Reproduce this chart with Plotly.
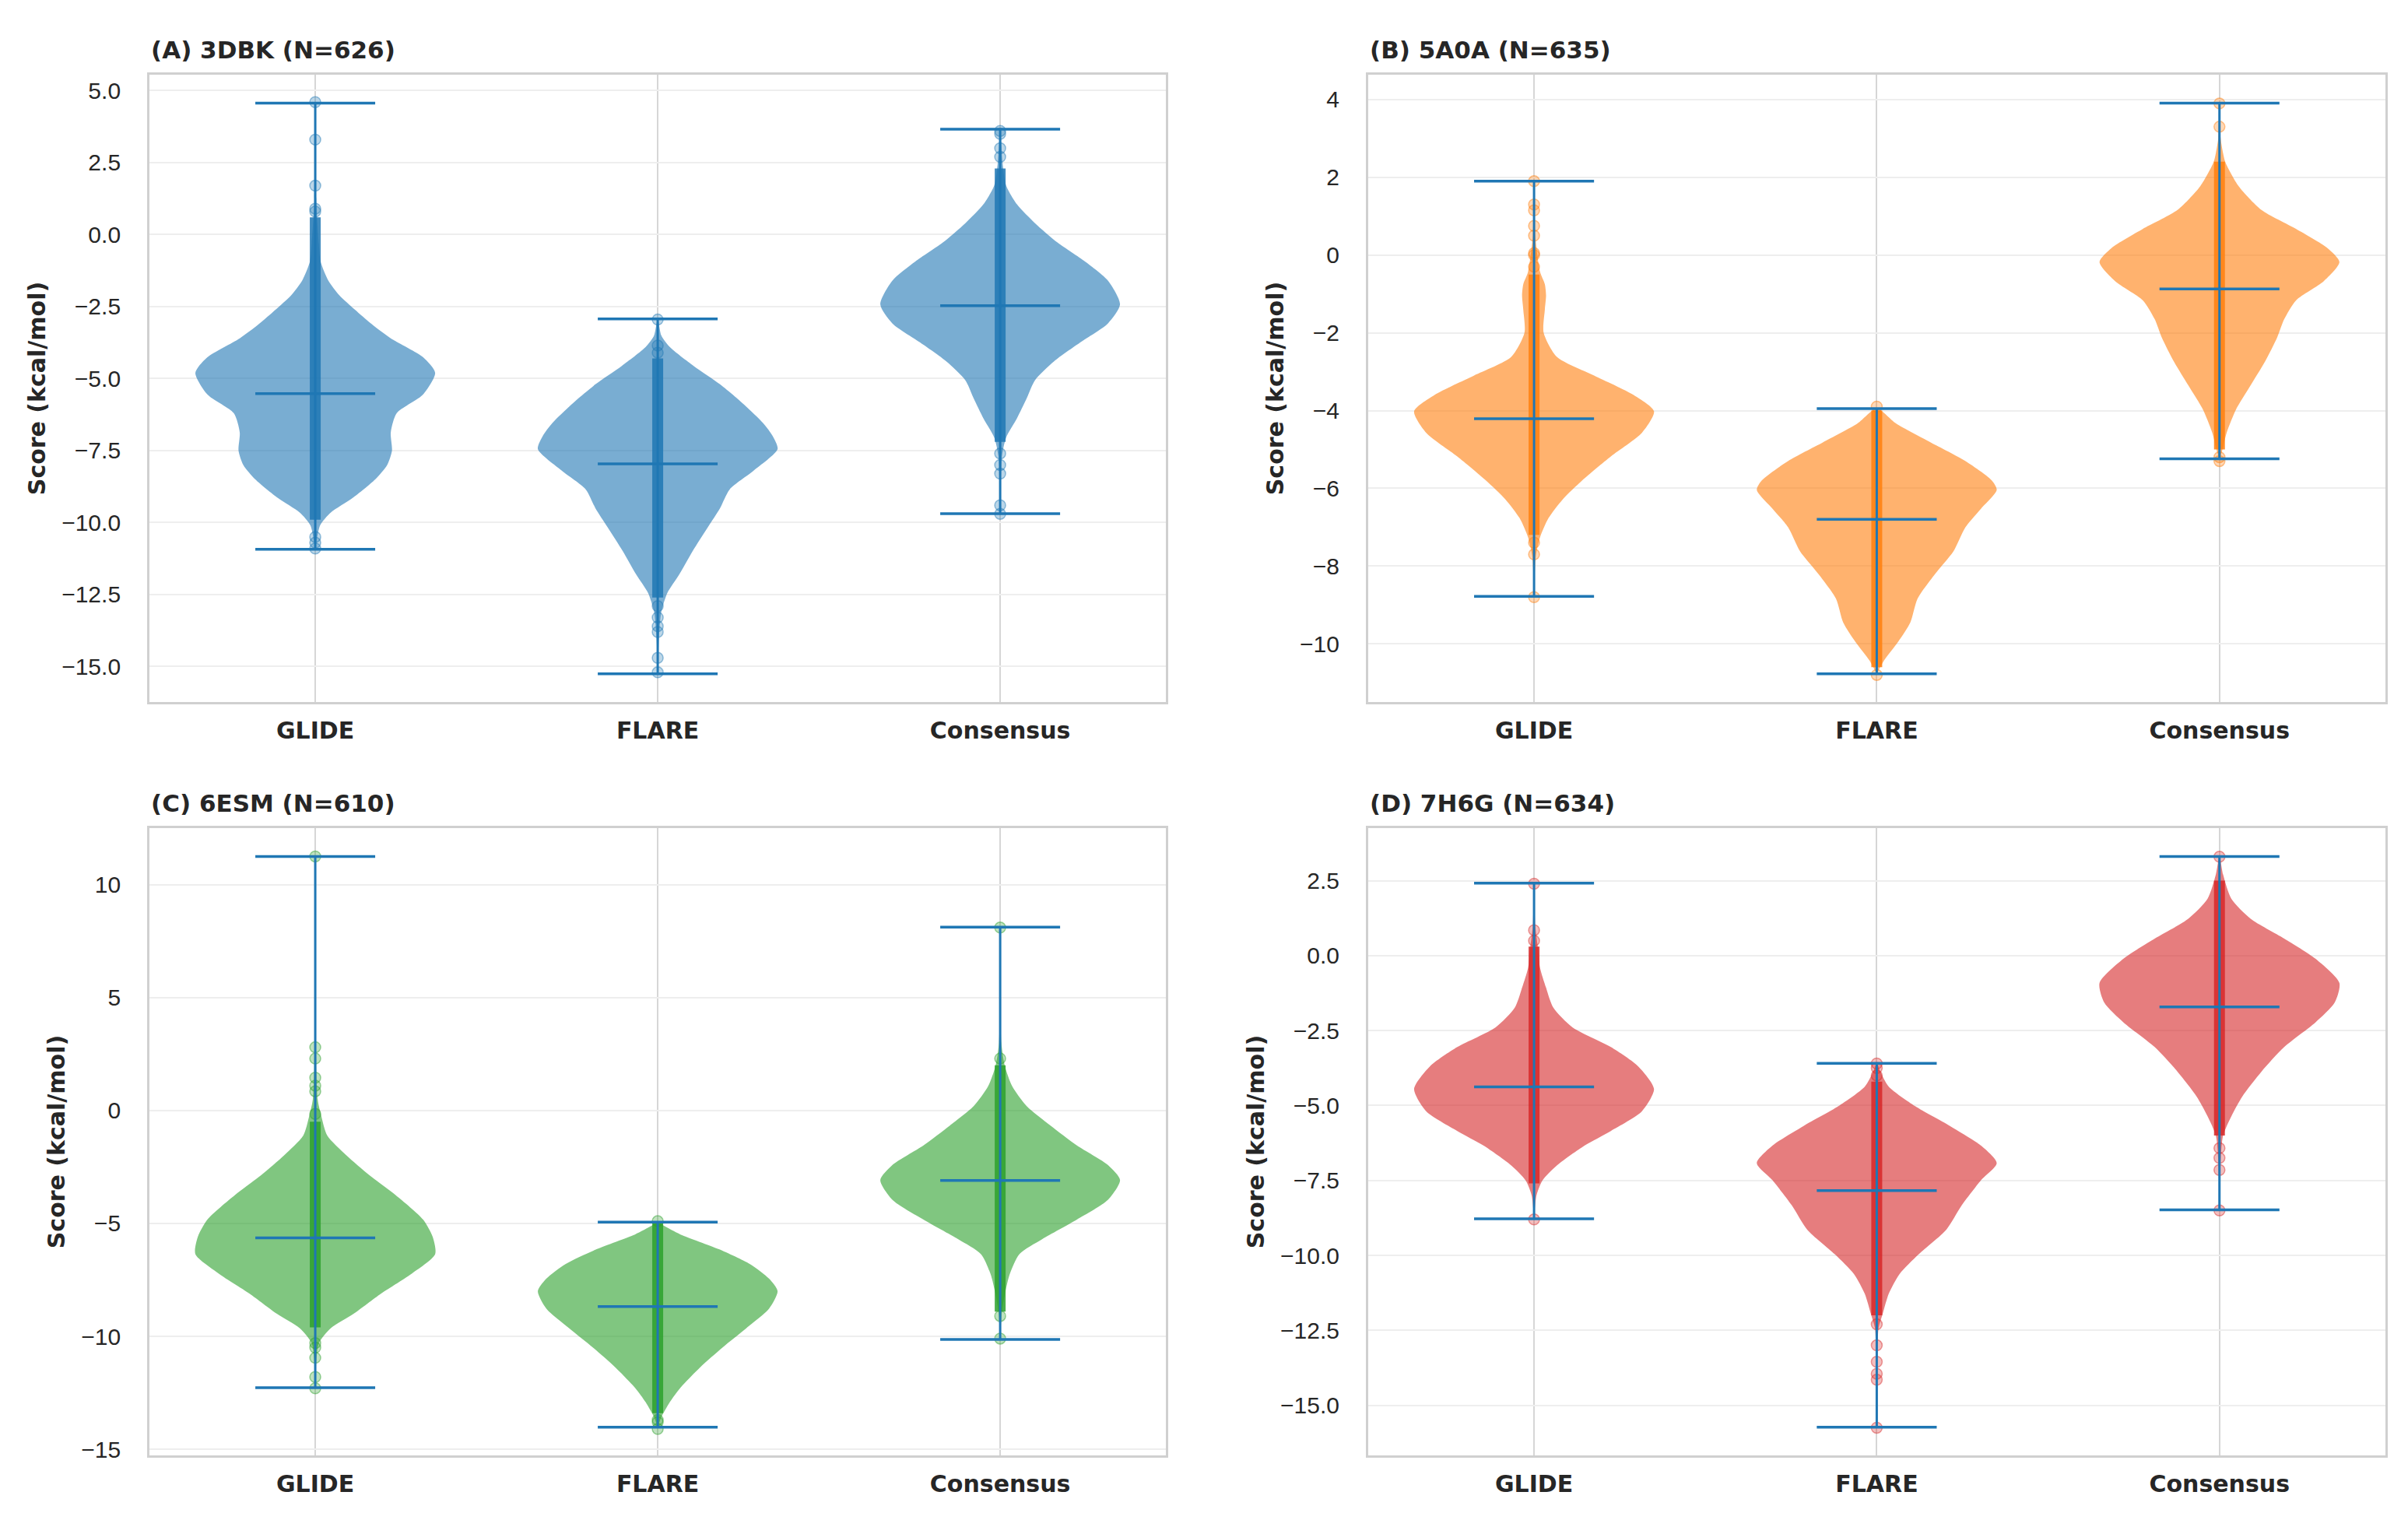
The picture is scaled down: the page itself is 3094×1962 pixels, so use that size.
import plotly.graph_objects as go
from plotly.subplots import make_subplots

# categorias e cores
methods = ['GLIDE', 'FLARE', 'Consensus']
panel_titles = ['(A) 3DBK (N=626)', '(B) 5A0A (N=635)', '(C) 6ESM (N=610)', '(D) 7H6G (N=634)']
panel_colors = [(31, 119, 180), (255, 127, 14), (44, 160, 44), (214, 39, 40)]

# min / max / mediana por painel (GLIDE, FLARE, Consensus)
a_min = [-10.93, -15.25, -9.69]
a_max = [4.57, -2.93, 3.66]
a_med = [-5.52, -7.96, -2.47]
b_min = [-8.78, -10.77, -5.24]
b_max = [1.90, -3.95, 3.91]
b_med = [-4.21, -6.80, -0.87]
c_min = [-12.27, -14.02, -10.14]
c_max = [11.25, -4.94, 8.12]
c_med = [-5.64, -8.68, -3.10]
d_min = [-8.78, -15.73, -8.48]
d_max = [2.42, -3.59, 3.31]
d_med = [-4.38, -7.84, -1.71]

# perfil de densidade: (score, meia-largura relativa)
a_glide_shape = [(4.57, 0), (1.0, 0.01), (-0.3, 0.03), (-0.94, 0.045), (-1.6, 0.11), (-2.1, 0.2),
                 (-2.6, 0.33), (-3.1, 0.47), (-3.6, 0.63), (-4.26, 0.9), (-4.8, 1.0), (-5.55, 0.9),
                 (-6.2, 0.68), (-6.87, 0.63), (-7.5, 0.64), (-8.0, 0.6), (-8.5, 0.5), (-9.15, 0.31),
                 (-9.65, 0.13), (-10.1, 0.04), (-10.93, 0)]
a_flare_shape = [(-2.93, 0), (-3.5, 0.03), (-3.9, 0.1), (-4.56, 0.3), (-5.2, 0.52), (-5.9, 0.72),
                 (-6.55, 0.88), (-7.0, 0.96), (-7.45, 1.0), (-8.2, 0.8), (-8.85, 0.6), (-9.5, 0.52),
                 (-10.15, 0.42), (-11.0, 0.29), (-11.8, 0.18), (-12.45, 0.08), (-13.1, 0.03),
                 (-14.0, 0.01), (-15.25, 0)]
a_cons_shape = [(3.66, 0), (2.5, 0.02), (1.7, 0.05), (1.05, 0.14), (0.4, 0.29), (-0.28, 0.48),
                (-0.94, 0.71), (-1.6, 0.9), (-2.42, 1.0), (-3.08, 0.9), (-3.74, 0.67), (-4.4, 0.45),
                (-5.06, 0.29), (-5.7, 0.22), (-6.38, 0.14), (-7.04, 0.05), (-7.7, 0.015), (-9.69, 0)]
b_glide_shape = [(1.9, 0), (0.5, 0.01), (-0.43, 0.05), (-0.75, 0.09), (-1.04, 0.1), (-1.4, 0.09),
                 (-2.0, 0.08), (-2.62, 0.19), (-3.1, 0.5), (-3.6, 0.83), (-4.02, 1.0), (-4.57, 0.9),
                 (-5.18, 0.64), (-5.8, 0.4), (-6.28, 0.24), (-6.77, 0.12), (-7.26, 0.05),
                 (-7.74, 0.015), (-8.78, 0)]
b_flare_shape = [(-3.95, 0), (-4.33, 0.16), (-4.82, 0.45), (-5.3, 0.74), (-5.8, 0.96), (-6.04, 1.0),
                 (-6.52, 0.87), (-7.0, 0.74), (-7.62, 0.64), (-8.23, 0.48), (-8.84, 0.34),
                 (-9.45, 0.28), (-9.94, 0.18), (-10.43, 0.06), (-10.77, 0)]
b_cons_shape = [(3.91, 0), (3.0, 0.01), (2.62, 0.03), (2.38, 0.05), (1.77, 0.16), (1.16, 0.35),
                (0.67, 0.64), (0.18, 0.9), (-0.18, 1.0), (-0.67, 0.87), (-1.16, 0.64), (-1.65, 0.54),
                (-2.13, 0.48), (-2.74, 0.38), (-3.35, 0.26), (-3.96, 0.14), (-4.57, 0.06),
                (-5.06, 0.02), (-5.24, 0)]
c_glide_shape = [(11.25, 0), (3.0, 0.005), (0.5, 0.02), (-0.24, 0.05), (-1.11, 0.1), (-1.99, 0.26),
                 (-2.86, 0.45), (-3.74, 0.67), (-4.83, 0.9), (-5.6, 0.98), (-6.36, 1.0), (-7.24, 0.8),
                 (-8.1, 0.55), (-9.0, 0.32), (-9.64, 0.13), (-10.3, 0.03), (-11.0, 0.01), (-12.27, 0)]
c_flare_shape = [(-4.94, 0), (-5.1, 0.05), (-5.49, 0.19), (-6.14, 0.51), (-6.8, 0.77), (-7.45, 0.93),
                 (-8.0, 1.0), (-8.77, 0.93), (-9.64, 0.74), (-10.5, 0.54), (-11.39, 0.35),
                 (-12.27, 0.19), (-12.92, 0.1), (-13.58, 0.03), (-14.02, 0)]
c_cons_shape = [(8.12, 0), (3.0, 0.01), (1.95, 0.04), (1.08, 0.1), (0.2, 0.22), (-0.67, 0.42),
                (-1.55, 0.64), (-2.42, 0.9), (-3.08, 1.0), (-3.95, 0.9), (-4.83, 0.64), (-5.7, 0.35),
                (-6.36, 0.16), (-7.24, 0.08), (-8.1, 0.04), (-8.98, 0.013), (-10.14, 0)]
d_glide_shape = [(2.42, 0), (1.0, 0.01), (0.33, 0.03), (-0.41, 0.05), (-1.07, 0.1), (-1.73, 0.16),
                 (-2.39, 0.32), (-3.05, 0.64), (-3.7, 0.87), (-4.45, 1.0), (-5.19, 0.9), (-5.85, 0.64),
                 (-6.34, 0.42), (-7.0, 0.19), (-7.5, 0.07), (-8.0, 0.02), (-8.78, 0)]
d_flare_shape = [(-3.59, 0), (-3.87, 0.03), (-4.37, 0.1), (-5.02, 0.32), (-5.68, 0.61), (-6.34, 0.87),
                 (-6.92, 1.0), (-7.49, 0.87), (-8.32, 0.71), (-9.14, 0.58), (-9.96, 0.35),
                 (-10.62, 0.19), (-11.28, 0.1), (-11.94, 0.05), (-12.43, 0.015), (-13.5, 0.005),
                 (-15.73, 0)]
d_cons_shape = [(3.31, 0), (2.71, 0.03), (1.89, 0.1), (1.23, 0.26), (0.57, 0.54), (-0.1, 0.8),
                (-0.91, 1.0), (-1.57, 0.96), (-2.23, 0.8), (-3.05, 0.54), (-3.87, 0.35), (-4.7, 0.19),
                (-5.35, 0.1), (-6.0, 0.03), (-6.8, 0.01), (-8.48, 0)]

# pontos isolados visíveis e faixa densa de pontos sobrepostos
a_glide_pts = [4.6, 3.3, 1.7, 0.9, 0.8, -10.5, -10.7, -10.9]
a_flare_pts = [-2.95, -3.85, -4.1, -12.9, -13.3, -13.6, -13.8, -14.7, -15.2]
a_cons_pts = [3.6, 3.5, 3.0, 2.7, -7.6, -8.0, -8.3, -9.4, -9.7]
b_glide_pts = [1.9, 1.3, 1.15, 0.75, 0.5, 0.05, 0.0, -0.3, -7.4, -7.7, -8.8]
b_flare_pts = [-3.9, -10.8]
b_cons_pts = [3.9, 3.3, -5.2, -5.3]
c_glide_pts = [11.25, 2.8, 2.3, 1.45, 1.1, 0.85, -0.15, -10.3, -10.5, -10.95, -11.8, -12.3]
c_flare_pts = [-4.9, -13.7, -13.8, -14.1]
c_cons_pts = [8.1, 2.3, -9.1, -10.1]
d_glide_pts = [2.4, 0.85, 0.5, -8.8]
d_flare_pts = [-3.6, -3.75, -4.0, -12.3, -13.0, -13.55, -13.95, -14.15, -15.75]
d_cons_pts = [3.3, -6.42, -6.75, -7.15, -8.5]

a_dense = [(-9.9, 0.6), (-12.6, -4.3), (-7.2, 2.3)]
b_dense = [(-7.2, -0.5), (-10.6, -4.0), (-5.0, 2.4)]
c_dense = [(-9.6, -0.5), (-13.4, -5.0), (-8.9, 2.0)]
d_dense = [(-7.6, 0.3), (-12.0, -4.2), (-6.0, 2.5)]

# eixo y de cada painel: (mínimo, máximo, passo, formato)
y_ticks = [(-15, 5, 2.5, '.1f'), (-10, 4, 2, 'd'), (-15, 10, 5, 'd'), (-15, 2.5, 2.5, '.1f')]

panels = [
    (a_min, a_max, a_med, [a_glide_shape, a_flare_shape, a_cons_shape],
     [a_glide_pts, a_flare_pts, a_cons_pts], a_dense),
    (b_min, b_max, b_med, [b_glide_shape, b_flare_shape, b_cons_shape],
     [b_glide_pts, b_flare_pts, b_cons_pts], b_dense),
    (c_min, c_max, c_med, [c_glide_shape, c_flare_shape, c_cons_shape],
     [c_glide_pts, c_flare_pts, c_cons_pts], c_dense),
    (d_min, d_max, d_med, [d_glide_shape, d_flare_shape, d_cons_shape],
     [d_glide_pts, d_flare_pts, d_cons_pts], d_dense),
]

LINE_BLUE = '#1f77b4'
HALF_W = 0.35
FONT_REG = 'Liberation Sans, Arial'
FONT_BOLD = 'DejaVu Sans'


def rgba(c, a):
    return 'rgba(%d,%d,%d,%s)' % (c[0], c[1], c[2], a)


fig = make_subplots(rows=2, cols=2)

x_domains = [[0.0595, 0.4816], [0.5656, 0.9880]]
y_domains = [[0.5423, 0.9551], [0.0469, 0.4597]]
title_y = [0.9712, 0.4758]

for i, (vmin, vmax, vmed, shapes, pts, dense) in enumerate(panels):
    row, col = i // 2 + 1, i % 2 + 1
    color = panel_colors[i]
    for j in range(3):
        pos = j + 1
        shape = shapes[j]
        ys = [s[0] for s in shape]
        ws = [s[1] * HALF_W for s in shape]
        xs = [pos + w for w in ws] + [pos - w for w in ws[::-1]]
        yy = ys + ys[::-1]
        # corpo do violino
        fig.add_trace(go.Scatter(
            x=xs, y=yy, mode='lines', fill='toself', fillcolor=rgba(color, 0.6),
            line=dict(width=0, shape='spline', smoothing=0.7, color=rgba(color, 0.6)),
            hoverinfo='skip', showlegend=False), row=row, col=col)
        # faixa densa de pontos
        lo, hi = dense[j]
        fig.add_trace(go.Scatter(
            x=[pos, pos], y=[lo, hi], mode='lines',
            line=dict(width=14, color=rgba(color, 0.85)),
            hoverinfo='skip', showlegend=False), row=row, col=col)
        # pontos isolados
        fig.add_trace(go.Scatter(
            x=[pos] * len(pts[j]), y=pts[j], mode='markers',
            marker=dict(size=14, color=rgba(color, 0.3),
                        line=dict(width=1.5, color=rgba(color, 0.45))),
            showlegend=False), row=row, col=col)
        # barra central, extremos e mediana
        fig.add_trace(go.Scatter(
            x=[pos, pos], y=[vmin[j], vmax[j]], mode='lines',
            line=dict(width=3, color=LINE_BLUE), hoverinfo='skip', showlegend=False),
            row=row, col=col)
        for val in (vmin[j], vmax[j], vmed[j]):
            fig.add_trace(go.Scatter(
                x=[pos - HALF_W / 2, pos + HALF_W / 2], y=[val, val], mode='lines',
                line=dict(width=3.5, color=LINE_BLUE), hoverinfo='skip', showlegend=False),
                row=row, col=col)

    lo_all, hi_all = min(vmin), max(vmax)
    pad = (hi_all - lo_all) * 0.05
    t0, t1, step, fmt = y_ticks[i]
    tickvals = []
    v = t0
    while v <= t1 + 1e-9:
        tickvals.append(v)
        v += step
    fig.update_yaxes(
        range=[lo_all - pad, hi_all + pad], tickvals=tickvals, tickformat=fmt,
        showgrid=True, gridcolor='#eeeeee', gridwidth=2, zeroline=False,
        showline=True, mirror=True, linecolor='#d0d0d0', linewidth=3,
        ticks='', ticklabelstandoff=28,
        tickfont=dict(family=FONT_REG, size=30, color='#262626'),
        title=dict(text='<b>Score (kcal/mol)</b>', standoff=12,
                   font=dict(family=FONT_BOLD, size=30, color='#262626')),
        domain=y_domains[row - 1], row=row, col=col)
    fig.update_xaxes(
        range=[0.516, 3.484], tickvals=[1, 2, 3],
        ticktext=['<b>%s</b>' % m for m in methods],
        showgrid=True, gridcolor='#d6d6d6', gridwidth=2, zeroline=False,
        showline=True, mirror=True, linecolor='#d0d0d0', linewidth=3,
        ticks='', ticklabelstandoff=8,
        tickfont=dict(family=FONT_BOLD, size=30, color='#262626'),
        domain=x_domains[col - 1], row=row, col=col)

    fig.add_annotation(
        text='<b>%s</b>' % panel_titles[i], xref='paper', yref='paper',
        x=x_domains[col - 1][0], y=title_y[row - 1],
        xanchor='left', yanchor='middle', showarrow=False,
        font=dict(family=FONT_BOLD, size=31, color='#262626'))

fig.update_layout(
    width=3094, height=1962,
    margin=dict(l=0, r=0, t=0, b=0),
    paper_bgcolor='white', plot_bgcolor='white',
    showlegend=False,
)

fig.write_html('out.html')
